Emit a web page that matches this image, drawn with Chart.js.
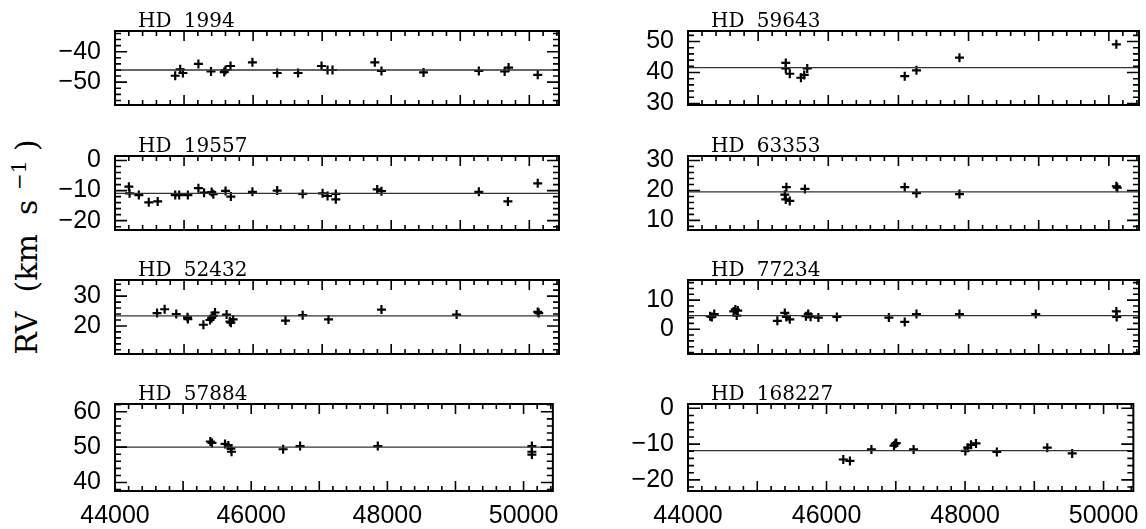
<!DOCTYPE html>
<html><head><meta charset="utf-8">
<script src="https://cdn.jsdelivr.net/npm/chart.js@4"></script>
<style>
html,body{margin:0;padding:0;background:#fff;}
body{width:1146px;height:529px;position:relative;overflow:hidden;}
canvas{position:absolute;}
#ylab{position:absolute;left:25px;top:247px;transform:translate(-50%,-50%) rotate(-90deg);font-family:"DejaVu Serif";font-size:30px;white-space:pre;color:#000;line-height:1;}
#ylab sup{font-size:20px;vertical-align:0.55em;}
</style></head><body>
<div id="ylab">RV  (km  s <sup>−1</sup> )</div>
<script>
// ---- data ----
const starNames = ["HD 1994", "HD 19557", "HD 52432", "HD 57884", "HD 59643", "HD 63353", "HD 77234", "HD 168227"];
const meanRV = [-46.0, -10.9, 23.4, 50.0, 41.6, 19.5, 4.7, -11.8];
const yMin = [-57.5, -23.1, 10.6, 37.6, 29.5, 6.8, -8.5, -23.1];
const yMax = [-33.2, 1.5, 35.4, 62.2, 53.4, 31.5, 16.9, 1.2];
const xMin = 44000, xMax = 50430;
const xTickLabels = [44000, 46000, 48000, 50000];

const jd_HD1994 = [44872, 44944, 44983, 45208, 45390, 45582, 45600, 45673, 45990, 46349, 46651, 46991, 47078, 47150, 47763, 47859, 48468, 49269, 49643, 49700, 50122];
const rv_HD1994 = [-47.9, -45.8, -47.0, -44.0, -46.5, -46.7, -46.0, -44.7, -43.5, -47.0, -47.0, -44.7, -46.0, -46.0, -43.5, -46.3, -46.8, -46.3, -46.5, -45.2, -47.6];

const jd_HD19557 = [44201, 44211, 44345, 44489, 44618, 44872, 44930, 45055, 45208, 45290, 45400, 45424, 45601, 45678, 45990, 46349, 46718, 47006, 47078, 47198, 47198, 47797, 47859, 49269, 49690, 50122];
const rv_HD19557 = [-8.7, -10.9, -11.5, -13.9, -13.6, -11.5, -11.5, -11.5, -9.2, -10.7, -10.5, -11.2, -10.1, -12.0, -10.4, -10.0, -11.1, -10.9, -11.8, -11.1, -12.9, -9.6, -10.2, -10.4, -13.6, -7.6];

const jd_HD52432 = [44609, 44719, 44887, 45050, 45055, 45280, 45376, 45400, 45424, 45448, 45616, 45664, 45678, 45711, 46469, 46718, 47092, 47859, 48947, 50122, 50136];
const rv_HD52432 = [24.3, 25.6, 24.0, 22.9, 22.3, 20.4, 22.0, 22.7, 23.4, 24.5, 23.8, 21.5, 21.1, 22.2, 21.8, 23.6, 22.2, 25.5, 23.8, 24.7, 24.3];

const jd_HD57884 = [45400, 45424, 45616, 45664, 45702, 45711, 46469, 46718, 47859, 50122, 50122, 50122];
const rv_HD57884 = [51.6, 51.2, 50.9, 50.5, 49.6, 48.7, 49.4, 50.3, 50.3, 50.3, 48.7, 47.9];

const jd_HD59643 = [45394, 45394, 45451, 45610, 45657, 45700, 47090, 47257, 47870, 50107];
const rv_HD59643 = [43.1, 41.3, 39.6, 38.3, 39.2, 41.3, 38.8, 40.7, 44.8, 49.1];

const jd_HD63353 = [45403, 45380, 45394, 45451, 45667, 47090, 47257, 47870, 50107, 50121];
const rv_HD63353 = [21.1, 18.6, 17.0, 16.5, 20.5, 21.1, 19.1, 18.8, 21.4, 20.9];

const jd_HD77234 = [44316, 44340, 44374, 44651, 44675, 44695, 44709, 45274, 45380, 45403, 45451, 45681, 45714, 45748, 45859, 46122, 46864, 47090, 47257, 47870, 48958, 50107, 50112];
const rv_HD77234 = [4.5, 4.2, 5.2, 6.1, 6.8, 4.7, 6.4, 2.9, 5.6, 4.2, 3.4, 4.5, 5.2, 4.3, 4.0, 4.2, 4.0, 2.5, 5.2, 5.2, 5.2, 6.1, 4.2];

const jd_HD168227 = [46242, 46338, 46648, 46974, 46993, 47007, 47257, 48004, 48038, 48086, 48158, 48459, 49187, 49547];
const rv_HD168227 = [-14.3, -14.7, -11.5, -10.4, -9.9, -9.7, -11.5, -11.9, -11.0, -10.2, -9.8, -12.2, -11.0, -12.6];

const jdSets = [jd_HD1994, jd_HD19557, jd_HD52432, jd_HD57884, jd_HD59643, jd_HD63353, jd_HD77234, jd_HD168227];
const rvSets = [rv_HD1994, rv_HD19557, rv_HD52432, rv_HD57884, rv_HD59643, rv_HD63353, rv_HD77234, rv_HD168227];

// ---- layout ----
const rowTop = [28, 153, 277, 401];
const plotH = 90;
const colLeft = [115, 688];
const colRight = [559, 1139];
const yAxisW = 60, padTop = 26, padRight = 10;

const framePlugin = {
  id: 'frame',
  afterDatasetsDraw(chart, args, opts) {
    const {ctx, chartArea: a} = chart;
    const x = chart.scales.x, y = chart.scales.y;
    ctx.save();
    ctx.strokeStyle = '#000';
    ctx.lineWidth = 1.6;
    ctx.beginPath();
    for (let k = Math.ceil(x.min / 200); k * 200 <= x.max; k++) {
      const v = k * 200;
      const px = x.getPixelForValue(v);
      const len = v % 1000 === 0 ? 10 : 5;
      ctx.moveTo(px, a.top); ctx.lineTo(px, a.top + len);
      ctx.moveTo(px, a.bottom); ctx.lineTo(px, a.bottom - len);
    }
    for (let k = Math.ceil(y.min / 2); k * 2 <= y.max; k++) {
      const v = k * 2;
      const py = y.getPixelForValue(v);
      const len = v % 10 === 0 ? 12 : 6;
      ctx.moveTo(a.left, py); ctx.lineTo(a.left + len, py);
      ctx.moveTo(a.right, py); ctx.lineTo(a.right - len, py);
    }
    ctx.stroke();
    ctx.lineWidth = 2;
    ctx.strokeRect(a.left, a.top, a.right - a.left, a.bottom - a.top);
    ctx.fillStyle = '#000';
    ctx.font = '20px "DejaVu Serif"';
    ctx.textBaseline = 'alphabetic';
    try { ctx.wordSpacing = '6px'; } catch (e) {}
    ctx.fillText(opts.title, a.left + 23, a.top - 4);
    ctx.restore();
  }
};

for (let i = 0; i < 8; i++) {
  const col = i < 4 ? 0 : 1;
  const row = i % 4;
  const bottomRow = row === 3;
  const cv = document.createElement('canvas');
  const left = colLeft[col] - yAxisW;
  const w = colRight[col] - left + padRight;
  const padBottom = bottomRow ? 0 : 16;
  const xAxisH = bottomRow ? 44 : 0;
  const h = padTop + plotH + padBottom + xAxisH;
  cv.width = w; cv.height = h;
  cv.style.left = left + 'px';
  cv.style.top = (rowTop[row] - padTop) + 'px';
  cv.style.width = w + 'px'; cv.style.height = h + 'px';
  document.body.appendChild(cv);

  const pts = jdSets[i].map((d, j) => ({x: d, y: rvSets[i][j]}));
  new Chart(cv, {
    type: 'scatter',
    data: {
      datasets: [
        {type: 'line', data: [{x: xMin, y: meanRV[i]}, {x: xMax, y: meanRV[i]}],
         borderColor: '#333', borderWidth: 1.3, pointRadius: 0, fill: false},
        {data: pts, pointStyle: 'cross', pointRadius: 4.5, pointHoverRadius: 4.5,
         pointBorderWidth: 2.2, borderColor: '#000', backgroundColor: '#000'}
      ]
    },
    options: {
      responsive: false, animation: false, devicePixelRatio: 1, events: [],
      layout: {padding: {top: padTop, right: padRight, bottom: padBottom, left: 0}},
      plugins: {legend: {display: false}, tooltip: {enabled: false}, frame: {title: starNames[i]}},
      scales: {
        x: {
          type: 'linear', min: xMin, max: xMax,
          grid: {display: false, drawTicks: false}, border: {display: false},
          afterFit: s => { s.height = xAxisH; },
          afterBuildTicks: s => { s.ticks = xTickLabels.map(v => ({value: v})); },
          ticks: {display: bottomRow, padding: 10, color: '#000', maxRotation: 0, autoSkip: false,
                  font: {family: 'Liberation Sans', size: 25}, callback: v => String(v)}
        },
        y: {
          type: 'linear', min: yMin[i], max: yMax[i],
          grid: {display: false, drawTicks: false}, border: {display: false},
          afterFit: s => { s.width = yAxisW; },
          ticks: {stepSize: 10, includeBounds: false, padding: 14, color: '#000',
                  font: {family: 'Liberation Sans', size: 25},
                  callback: v => (v % 10 === 0 ? String(v).replace('-', '\u2212') : '')}
        }
      }
    },
    plugins: [framePlugin]
  });
}
</script>
</body></html>
